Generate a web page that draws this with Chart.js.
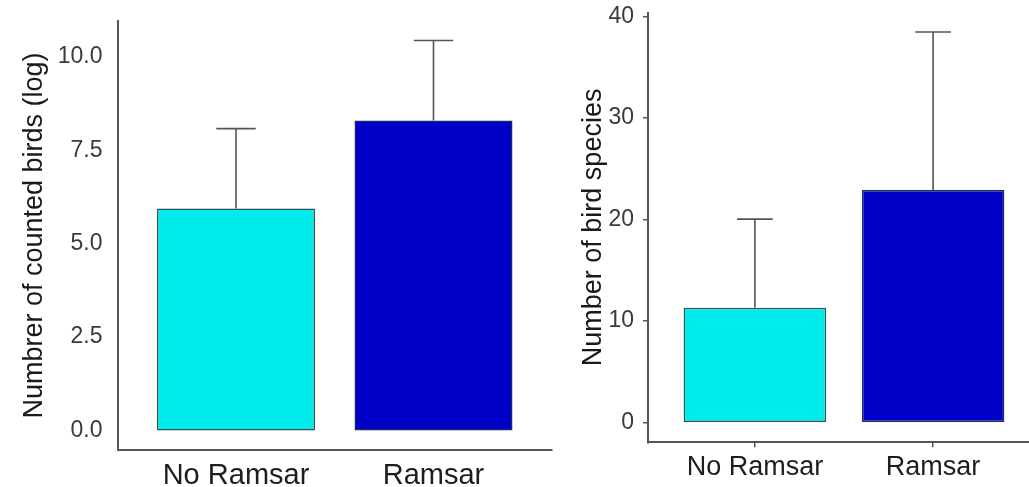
<!DOCTYPE html>
<html>
<head>
<meta charset="utf-8">
<script src="https://cdn.jsdelivr.net/npm/chart.js@4/dist/chart.umd.min.js"></script>
<style>
  html, body { margin: 0; padding: 0; background: #fff; overflow: hidden; }
  #wrap { position: relative; width: 1029px; height: 487px; overflow: hidden; }
  .panel { position: absolute; top: 0; height: 487px; }
</style>
</head>
<body>
<div id="wrap">
  <div class="panel" style="left:0;width:560px"><canvas id="birds"></canvas></div>
  <div class="panel" style="left:560px;width:500px"><canvas id="species"></canvas></div>
</div>
<script>
const categories = ['No Ramsar', 'Ramsar'];
const barColors = ['#00ebeb', '#0000c8'];
const borderColors = ['#2a5656', '#1c2a66'];

// left panel: log of counted birds
const birdsMean = [5.94, 8.30];
const birdsUpper = [8.08, 10.44];
const birdsTicks = [0, 2.5, 5, 7.5, 10];

// right panel: species richness
const speciesMean = [11.33, 22.9];
const speciesUpper = [20.04, 38.45];
const speciesTicks = [0, 10, 20, 30, 40];

Chart.defaults.font.family = "'Liberation Sans', Arial, sans-serif";
Chart.defaults.color = '#3a3a3a';

const axisGrey = '#555555';

// error bar drawn from the bar top to the upper limit, via the chart scales
function errorBars(upper, means, capHalf) {
  return {
    id: 'errorBars',
    afterDatasetsDraw(chart) {
      const ctx = chart.ctx;
      const xs = chart.scales.x, ys = chart.scales.y;
      ctx.save();
      ctx.strokeStyle = '#555555';
      ctx.lineWidth = 1.6;
      upper.forEach((u, i) => {
        const x = xs.getPixelForValue(i + 1);
        const w = xs.getPixelForValue(i + 1 + capHalf) - x;
        const yTop = ys.getPixelForValue(u);
        const yBar = ys.getPixelForValue(means[i]);
        ctx.beginPath();
        ctx.moveTo(x, yBar);
        ctx.lineTo(x, yTop);
        ctx.moveTo(x - w, yTop);
        ctx.lineTo(x + w, yTop);
        ctx.stroke();
      });
      ctx.restore();
    }
  };
}

function makePanel(canvas, cfg) {
  const yMax = Math.max(...cfg.upper) * 1.05;
  const yMin = -Math.max(...cfg.upper) * 0.05;
  return new Chart(canvas, {
    type: 'bar',
    data: {
      datasets: [{
        data: cfg.means.map((v, i) => ({ x: i + 1, y: v })),
        backgroundColor: barColors,
        borderColor: borderColors,
        borderWidth: 1.5,
        borderSkipped: false,
        barPercentage: 0.8,
        categoryPercentage: 1
      }]
    },
    options: {
      responsive: true,
      maintainAspectRatio: false,
      animation: false,
      layout: { padding: { left: 0, right: cfg.padRight, top: cfg.padTop, bottom: 0 } },
      plugins: { legend: { display: false }, tooltip: { enabled: false } },
      scales: {
        x: {
          type: 'linear',
          min: 0.4,
          max: 2.6,
          offset: false,
          afterBuildTicks: (s) => { s.ticks = categories.map((c, i) => ({ value: i + 1 })); },
          afterFit: (s) => {
            s.height = cfg.xHeight;
            s.paddingLeft = 0; s.paddingRight = 0;
          },
          grid: {
            offset: false,
            drawOnChartArea: false,
            display: cfg.tickMarks,
            drawTicks: cfg.tickMarks,
            tickLength: 5,
            color: axisGrey,
            lineWidth: 1.5
          },
          border: { display: true, color: axisGrey, width: 2 },
          ticks: {
            autoSkip: false,
            maxRotation: 0,
            padding: cfg.xPad,
            color: '#1e1e1e',
            font: { size: cfg.xFont },
            callback: (v) => categories[v - 1]
          }
        },
        y: {
          min: yMin,
          max: yMax,
          afterBuildTicks: (s) => { s.ticks = cfg.ticks.map(v => ({ value: v })); },
          afterFit: (s) => {
            s.width = cfg.yWidth;
            s.paddingTop = 0; s.paddingBottom = 0;
          },
          grid: {
            drawOnChartArea: false,
            display: cfg.tickMarks,
            drawTicks: cfg.tickMarks,
            tickLength: 5,
            color: axisGrey,
            lineWidth: 1.5
          },
          border: { display: true, color: axisGrey, width: 2 },
          ticks: {
            padding: cfg.yPad,
            color: '#3a3a3a',
            font: { size: 23 },
            callback: cfg.fmt
          },
          title: {
            display: true,
            text: cfg.title,
            color: '#1a1a1a',
            font: { size: cfg.titleFont },
            padding: { top: cfg.titlePad, bottom: 0 }
          }
        }
      }
    },
    plugins: [errorBars(cfg.upper, cfg.means, 0.1)]
  });
}

makePanel(document.getElementById('birds'), {
  means: birdsMean,
  upper: birdsUpper,
  ticks: birdsTicks,
  fmt: (v) => v.toFixed(1),
  title: 'Numbrer of counted birds (log)',
  titleFont: 27,
  titlePad: 18,
  xFont: 29,
  xPad: 9,
  yPad: 15,
  yWidth: 117.5,
  xHeight: 37,
  padTop: 21,
  padRight: 8,
  tickMarks: false
});

makePanel(document.getElementById('species'), {
  means: speciesMean,
  upper: speciesUpper,
  ticks: speciesTicks,
  fmt: (v) => String(v),
  title: 'Number of bird species',
  titleFont: 27,
  titlePad: 17,
  xFont: 27,
  xPad: 4.5,
  yPad: 9,
  yWidth: 88,
  xHeight: 44.7,
  padTop: 12.5,
  padRight: 20,
  tickMarks: true
});
</script>
</body>
</html>
